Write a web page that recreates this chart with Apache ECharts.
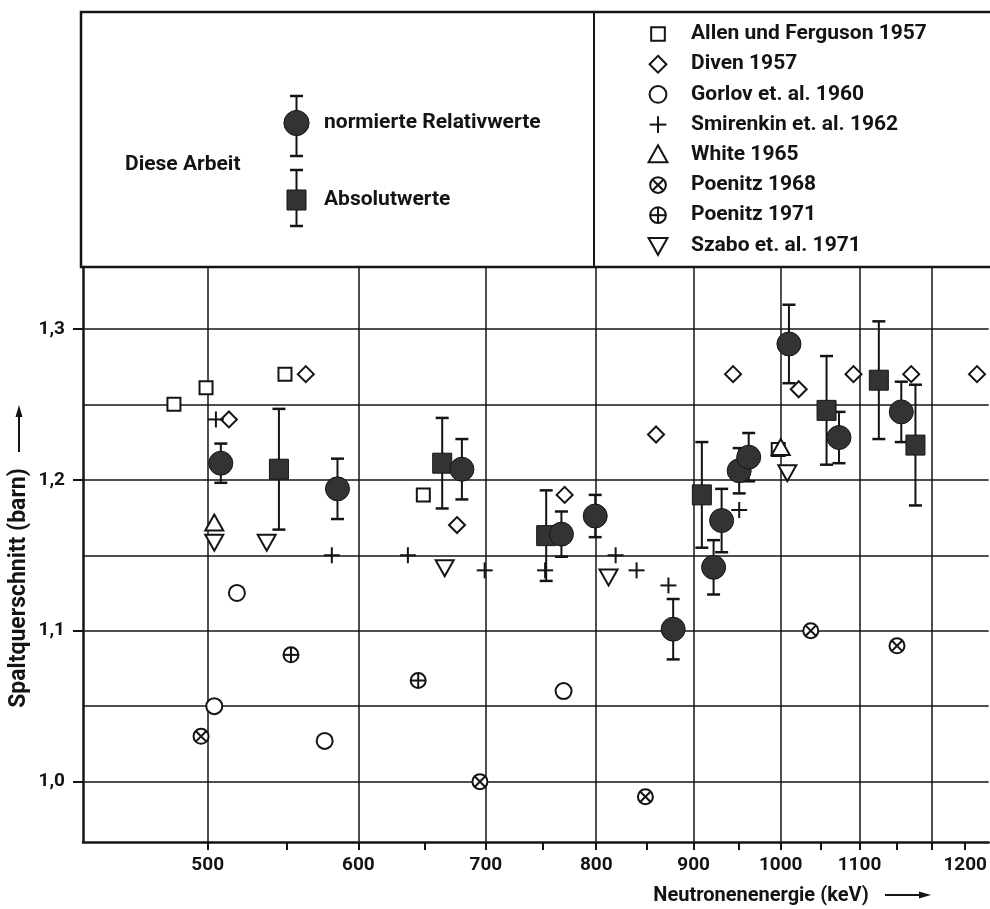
<!DOCTYPE html>
<html>
<head>
<meta charset="utf-8">
<script src="https://cdn.jsdelivr.net/npm/echarts@6/dist/echarts.min.js"></script>
<style>
html,body{margin:0;padding:0;background:#fff;}
#chart{width:990px;height:909px;}
</style>
</head>
<body>
<div id="chart"></div>
<script>
// ---------- data (energy in keV, cross section in barn) ----------
const relEnergy = [508, 585, 680, 767, 799, 878, 922, 931, 951, 962, 1010, 1073, 1157];
const relSigma  = [1.211, 1.194, 1.207, 1.164, 1.176, 1.101, 1.142, 1.173, 1.206, 1.215, 1.290, 1.228, 1.245];
const relErr    = [0.013, 0.020, 0.020, 0.015, 0.014, 0.020, 0.018, 0.021, 0.015, 0.016, 0.026, 0.017, 0.020];

const absEnergy = [545, 664, 753, 909, 1057, 1126, 1177];
const absSigma  = [1.207, 1.211, 1.163, 1.190, 1.246, 1.266, 1.223];
const absErr    = [0.040, 0.030, 0.030, 0.035, 0.036, 0.039, 0.040];

const allenEnergy = [480, 499, 549, 649, 997];
const allenSigma  = [1.250, 1.261, 1.270, 1.190, 1.220];

const divenEnergy = [513, 563, 676, 770, 860, 944, 1022, 1092, 1171, 1268];
const divenSigma  = [1.240, 1.270, 1.170, 1.190, 1.230, 1.270, 1.260, 1.270, 1.270, 1.270];

const gorlovEnergy = [504, 518, 576, 769];
const gorlovSigma  = [1.050, 1.125, 1.027, 1.060];

const smirenkinEnergy = [505, 581, 637, 699, 752, 819, 840, 873, 951];
const smirenkinSigma  = [1.240, 1.150, 1.150, 1.140, 1.140, 1.150, 1.140, 1.130, 1.180];

const whiteEnergy = [504, 1000];
const whiteSigma  = [1.171, 1.221];

const poenitz68Energy = [496, 695, 849, 1037, 1151];
const poenitz68Sigma  = [1.030, 1.000, 0.990, 1.100, 1.090];

const poenitz71Energy = [553, 645];
const poenitz71Sigma  = [1.084, 1.067];

const szaboEnergy = [504, 537, 666, 812, 1008];
const szaboSigma  = [1.159, 1.159, 1.142, 1.136, 1.205];

// ---------- axis ticks / labels ----------
const xGridValues  = [500, 600, 700, 800, 900, 1000, 1100, 1200];
const xTickValues  = [500, 550, 600, 650, 700, 750, 800, 850, 900, 950, 1000, 1050, 1100, 1150, 1200, 1250];
const xLabelValues = [500, 600, 700, 800, 900, 1000, 1100, 1250];
const xLabelTexts  = ['500', '600', '700', '800', '900', '1000', '1100', '1200'];

const yMajorValues = [1.0, 1.1, 1.2, 1.3];
const yMajorTexts  = ['1,0', '1,1', '1,2', '1,3'];
const yMinorValues = [1.05, 1.15, 1.25];

const xTitle = 'Neutronenenergie (keV)';
const yTitle = 'Spaltquerschnitt (barn)';

const legendWork = { title: 'Diese Arbeit', rel: 'normierte Relativwerte', abs: 'Absolutwerte' };
const legendOthers = [
  ['sq', 'Allen und Ferguson 1957'],
  ['dia', 'Diven 1957'],
  ['circ', 'Gorlov et. al. 1960'],
  ['plus', 'Smirenkin et. al. 1962'],
  ['triUp', 'White 1965'],
  ['otimes', 'Poenitz 1968'],
  ['oplus', 'Poenitz 1971'],
  ['triDown', 'Szabo et. al. 1971']
];

// ---------- drawing helpers ----------
const INK = '#141414';
const FILL = '#333333';
const FONT = 'Roboto';

function shapeEls(shape, x, y, s) {
  s = s || 1;
  const st = { stroke: INK, lineWidth: 2, fill: '#fff' };
  const ln = { stroke: INK, lineWidth: 2 };
  switch (shape) {
    case 'sq':
      return [{ type: 'rect', shape: { x: x - 6.5 * s, y: y - 6.5 * s, width: 13 * s, height: 13 * s }, style: st }];
    case 'dia':
      return [{ type: 'polygon', shape: { points: [[x, y - 8 * s], [x + 8 * s, y], [x, y + 8 * s], [x - 8 * s, y]] }, style: st }];
    case 'circ':
      return [{ type: 'circle', shape: { cx: x, cy: y, r: 8 * s }, style: st }];
    case 'plus':
      return [
        { type: 'line', shape: { x1: x - 8 * s, y1: y, x2: x + 8 * s, y2: y }, style: ln },
        { type: 'line', shape: { x1: x, y1: y - 8 * s, x2: x, y2: y + 8 * s }, style: ln }
      ];
    case 'triUp':
      return [{ type: 'polygon', shape: { points: [[x, y - 9 * s], [x + 9 * s, y + 7 * s], [x - 9 * s, y + 7 * s]] }, style: st }];
    case 'triDown':
      return [{ type: 'polygon', shape: { points: [[x - 9 * s, y - 7 * s], [x + 9 * s, y - 7 * s], [x, y + 9 * s]] }, style: st }];
    case 'otimes': {
      const r = 7.5 * s, d = r * 0.707;
      return [
        { type: 'circle', shape: { cx: x, cy: y, r: r }, style: st },
        { type: 'line', shape: { x1: x - d, y1: y - d, x2: x + d, y2: y + d }, style: ln },
        { type: 'line', shape: { x1: x - d, y1: y + d, x2: x + d, y2: y - d }, style: ln }
      ];
    }
    case 'oplus': {
      const r = 7.5 * s;
      return [
        { type: 'circle', shape: { cx: x, cy: y, r: r }, style: st },
        { type: 'line', shape: { x1: x - r, y1: y, x2: x + r, y2: y }, style: ln },
        { type: 'line', shape: { x1: x, y1: y - r, x2: x, y2: y + r }, style: ln }
      ];
    }
    case 'fcirc':
      return [{ type: 'circle', shape: { cx: x, cy: y, r: 12 * s }, style: { fill: FILL, stroke: INK, lineWidth: 1 } }];
    case 'fsq':
      return [{ type: 'rect', shape: { x: x - 9.5 * s, y: y - 10 * s, width: 19 * s, height: 20 * s }, style: { fill: FILL, stroke: INK, lineWidth: 1 } }];
  }
  return [];
}

function errorBarEls(x, yTop, yBot) {
  const cw = 6.5;
  const ln = { stroke: INK, lineWidth: 2 };
  const cap = { stroke: INK, lineWidth: 2.5 };
  return [
    { type: 'line', shape: { x1: x, y1: yTop, x2: x, y2: yBot }, style: ln },
    { type: 'line', shape: { x1: x - cw, y1: yTop, x2: x + cw, y2: yTop }, style: cap },
    { type: 'line', shape: { x1: x - cw, y1: yBot, x2: x + cw, y2: yBot }, style: cap }
  ];
}

function markerSeries(name, xs, ys, shape, z) {
  return {
    type: 'custom', name: name, xAxisIndex: 0, yAxisIndex: 0, z: z || 5,
    data: xs.map((v, i) => [v, ys[i]]),
    renderItem: function (params, api) {
      const p = api.coord([api.value(0), api.value(1)]);
      return { type: 'group', children: shapeEls(shape, p[0], p[1], 1) };
    }
  };
}

function errorSeries(name, xs, ys, es) {
  return {
    type: 'custom', name: name, xAxisIndex: 0, yAxisIndex: 0, z: 6,
    data: xs.map((v, i) => [v, ys[i], es[i]]),
    renderItem: function (params, api) {
      const x = api.value(0), y = api.value(1), e = api.value(2);
      const t = api.coord([x, y + e]);
      const b = api.coord([x, y - e]);
      return { type: 'group', children: errorBarEls(t[0], t[1], b[1]) };
    }
  };
}

// ---------- legend graphics ----------
const graphics = [];
// legend boxes
graphics.push({ type: 'rect', shape: { x: 81, y: 12, width: 930, height: 255 }, style: { fill: 'none', stroke: INK, lineWidth: 2.5 }, z: 20 });
graphics.push({ type: 'line', shape: { x1: 594, y1: 12, x2: 594, y2: 267 }, style: { stroke: INK, lineWidth: 2 }, z: 20 });

const legendFont = { fill: INK, fontFamily: FONT, fontSize: 21, fontWeight: 'bold' };
graphics.push({ type: 'text', x: 125, y: 165, style: Object.assign({ text: legendWork.title, textAlign: 'left', textVerticalAlign: 'middle' }, legendFont), z: 21 });
graphics.push({ type: 'group', children: errorBarEls(296.5, 96, 156).concat(shapeEls('fcirc', 296.5, 123, 1.05)), z: 21 });
graphics.push({ type: 'text', x: 324, y: 123, style: Object.assign({ text: legendWork.rel, textAlign: 'left', textVerticalAlign: 'middle' }, legendFont), z: 21 });
graphics.push({ type: 'group', children: errorBarEls(296.5, 170, 226).concat(shapeEls('fsq', 296.5, 200, 1)), z: 21 });
graphics.push({ type: 'text', x: 324, y: 200, style: Object.assign({ text: legendWork.abs, textAlign: 'left', textVerticalAlign: 'middle' }, legendFont), z: 21 });

legendOthers.forEach(function (item, i) {
  const y = 34 + 30.2 * i;
  graphics.push({ type: 'group', children: shapeEls(item[0], 658, y, 1.05), z: 21 });
  graphics.push({ type: 'text', x: 691, y: y, style: Object.assign({ text: item[1], textAlign: 'left', textVerticalAlign: 'middle' }, legendFont), z: 21 });
});

// axis titles with arrows
graphics.push({ type: 'text', x: 19, y: 588, rotation: Math.PI / 2,
  style: { text: yTitle, fill: INK, fontFamily: FONT, fontSize: 23, fontWeight: 'bold', textAlign: 'center', textVerticalAlign: 'middle' }, z: 21 });
graphics.push({ type: 'line', shape: { x1: 19, y1: 452, x2: 19, y2: 414 }, style: { stroke: INK, lineWidth: 2 }, z: 21 });
graphics.push({ type: 'polygon', shape: { points: [[19, 405], [15.5, 417], [22.5, 417]] }, style: { fill: INK }, z: 21 });

graphics.push({ type: 'text', x: 761, y: 896,
  style: { text: xTitle, fill: INK, fontFamily: FONT, fontSize: 20, fontWeight: 'bold', textAlign: 'center', textVerticalAlign: 'middle' }, z: 21 });
graphics.push({ type: 'line', shape: { x1: 885, y1: 895, x2: 921, y2: 895 }, style: { stroke: INK, lineWidth: 2 }, z: 21 });
graphics.push({ type: 'polygon', shape: { points: [[931, 895], [919, 891.5], [919, 898.5]] }, style: { fill: INK }, z: 21 });

// ---------- chart ----------
const chart = echarts.init(document.getElementById('chart'), null, { renderer: 'canvas' });

const axisLabelStyle = { color: INK, fontFamily: FONT, fontSize: 19, fontWeight: 'bold' };

const option = {
  animation: false,
  backgroundColor: '#fff',
  grid: { left: 83, right: 0, top: 267, bottom: 67, containLabel: false },
  xAxis: [
    {
      type: 'log', logBase: 10, min: 430, max: 1286, position: 'bottom',
      axisLine: { show: true, onZero: false, lineStyle: { color: INK, width: 2.5 } },
      axisTick: { show: false, customValues: xGridValues },
      axisLabel: { show: false },
      splitLine: { show: true, lineStyle: { color: INK, width: 1.5 } },
      minorTick: { show: false }, minorSplitLine: { show: false }
    },
    {
      type: 'log', logBase: 10, min: 430, max: 1286, position: 'bottom',
      axisLine: { show: false },
      axisTick: { show: true, inside: false, length: 8, customValues: xTickValues, lineStyle: { color: INK, width: 2 } },
      axisLabel: Object.assign({
        show: true, margin: 14, customValues: xLabelValues,
        formatter: function (v) {
          const i = xLabelValues.findIndex(function (t) { return Math.abs(t - v) < 0.5; });
          return i >= 0 ? xLabelTexts[i] : '';
        }
      }, axisLabelStyle),
      splitLine: { show: false }
    }
  ],
  yAxis: [
    {
      type: 'value', min: 0.96, max: 1.341, position: 'left',
      axisLine: { show: true, onZero: false, lineStyle: { color: INK, width: 2.5 } },
      axisTick: { show: true, inside: false, length: 10, customValues: yMajorValues, lineStyle: { color: INK, width: 2 } },
      axisLabel: Object.assign({
        show: true, margin: 18, customValues: yMajorValues,
        formatter: function (v) {
          const i = yMajorValues.findIndex(function (t) { return Math.abs(t - v) < 1e-6; });
          return i >= 0 ? yMajorTexts[i] : '';
        }
      }, axisLabelStyle),
      splitLine: { show: true, lineStyle: { color: INK, width: 1.5 } }
    },
    {
      type: 'value', min: 0.96, max: 1.341, position: 'left',
      axisLine: { show: false },
      axisTick: { show: false, customValues: yMinorValues },
      axisLabel: { show: false },
      splitLine: { show: true, lineStyle: { color: INK, width: 1.5 } }
    }
  ],
  graphic: graphics,
  series: [
    markerSeries('Allen und Ferguson 1957', allenEnergy, allenSigma, 'sq', 4),
    markerSeries('Diven 1957', divenEnergy, divenSigma, 'dia', 4),
    markerSeries('Gorlov et. al. 1960', gorlovEnergy, gorlovSigma, 'circ', 4),
    markerSeries('Smirenkin et. al. 1962', smirenkinEnergy, smirenkinSigma, 'plus', 4),
    markerSeries('White 1965', whiteEnergy, whiteSigma, 'triUp', 4),
    markerSeries('Poenitz 1968', poenitz68Energy, poenitz68Sigma, 'otimes', 4),
    markerSeries('Poenitz 1971', poenitz71Energy, poenitz71Sigma, 'oplus', 4),
    markerSeries('Szabo et. al. 1971', szaboEnergy, szaboSigma, 'triDown', 4),
    errorSeries('Absolutwerte Fehler', absEnergy, absSigma, absErr),
    errorSeries('normierte Relativwerte Fehler', relEnergy, relSigma, relErr),
    markerSeries('Absolutwerte', absEnergy, absSigma, 'fsq', 7),
    markerSeries('normierte Relativwerte', relEnergy, relSigma, 'fcirc', 7)
  ]
};
chart.setOption(option);
</script>
</body>
</html>
